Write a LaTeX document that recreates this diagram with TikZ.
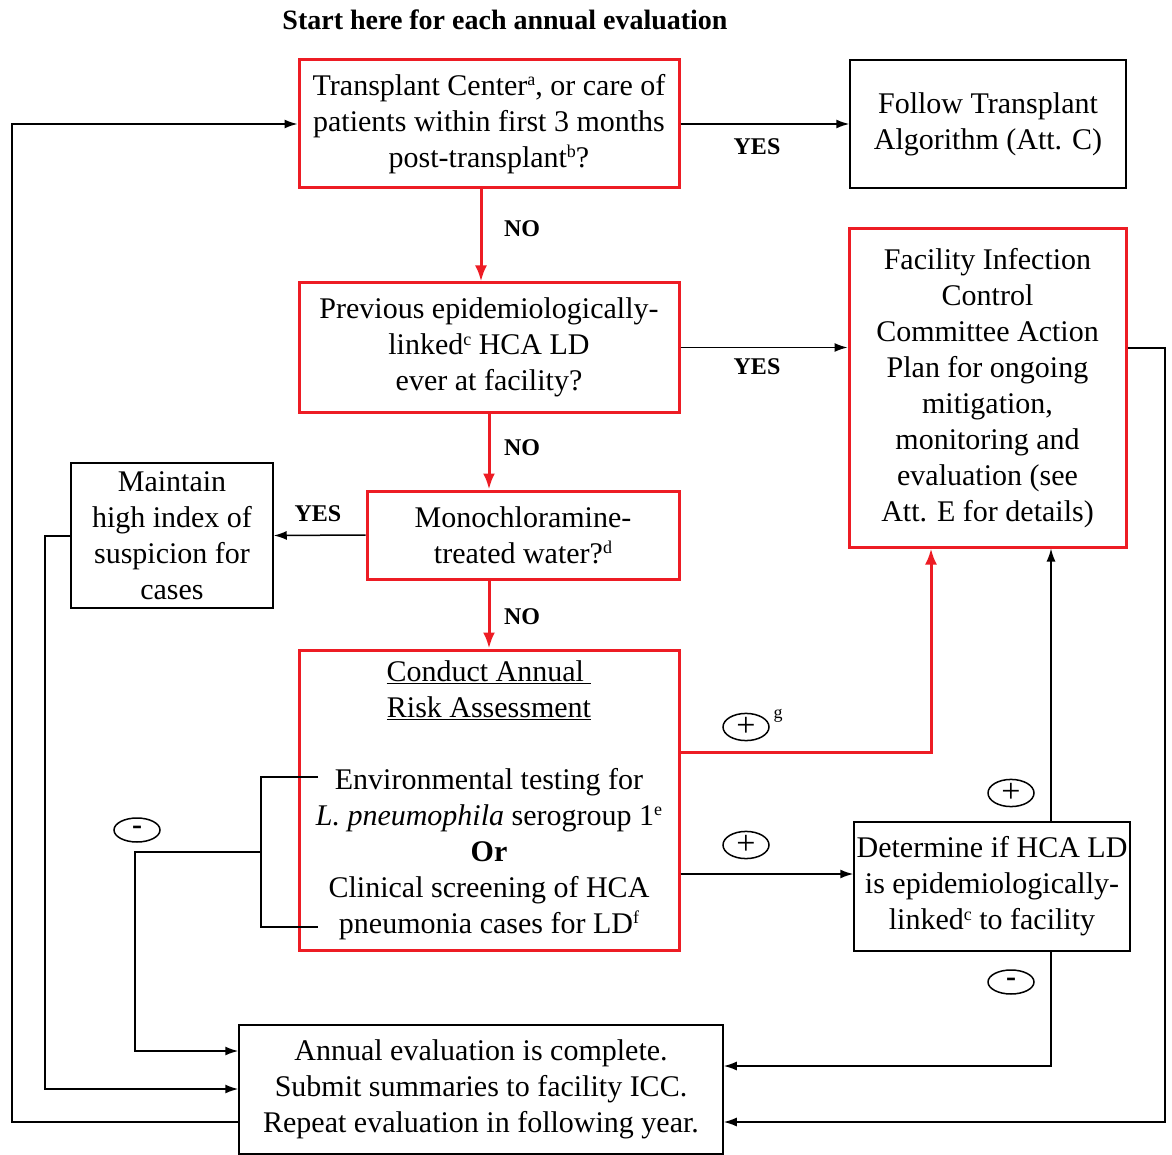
\documentclass[tikz,border=0pt]{standalone}
\usepackage{fontspec}
\setmainfont{Liberation Serif}
\usetikzlibrary{arrows.meta,shapes.geometric}
\definecolor{fred}{RGB}{237,28,36}
\newcommand{\supr}[1]{\raisebox{0.7ex}{\fontsize{18}{18}\selectfont #1}}
\tikzset{
  boxbase/.style={rectangle, align=center, inner sep=0pt, font=\fontsize{30}{36}\selectfont},
  redbox/.style={boxbase, draw=fred, line width=3pt},
  blkbox/.style={boxbase, draw=black, line width=1.5pt},
  conn/.style={line width=1.5pt, draw=black},
  arr/.style={conn, -{Latex[length=13pt,width=9pt]}},
  redarr/.style={line width=3pt, draw=fred, -{Latex[length=16pt,width=12pt]}},
  lbl/.style={font=\bfseries\fontsize{24}{28}\selectfont, inner sep=0pt},
  sym/.style={ellipse, draw=black, line width=1.5pt, minimum width=46pt, minimum height=24pt, inner sep=0pt, font=\fontsize{34}{34}\selectfont}
}
\begin{document}
\begin{tikzpicture}[x=1pt,y=-1pt]
\useasboundingbox (0,0) rectangle (1172,1155);

\node[font=\bfseries\fontsize{28}{32}\selectfont, inner sep=0pt] (title) at (505,20) {Start here for each annual evaluation};

\node[redbox, minimum width=380pt, minimum height=128pt] (A) at (489,124)
  {Transplant Center\supr{a}, or care of\\patients within first 3 months\\post-transplant\supr{b}?};
\node[blkbox, minimum width=276pt, minimum height=128pt] (B) at (988,124)
  {Follow Transplant\\Algorithm (Att. C)};
\node[redbox, minimum width=380pt, minimum height=129pt] (C) at (489,347.5)
  {Previous epidemiologically-\\linked\supr{c} HCA LD\\ever at facility?};
\node[redbox, minimum width=277pt, minimum height=318pt] (D) at (987.5,388)
  {Facility Infection\\Control\\Committee Action\\Plan for ongoing\\mitigation,\\monitoring and\\evaluation (see\\Att. E for details)};
\node[redbox, minimum width=312pt, minimum height=88pt] (E) at (523,535)
  {Monochloramine-\\treated water?\supr{d}};
\node[blkbox, minimum width=202pt, minimum height=145pt] (F) at (172,535.5)
  {Maintain\\high index of\\suspicion for\\cases};
\node[redbox, minimum width=380pt, minimum height=300pt] (G) at (489,800)
  {\underline{Conduct Annual\ }\\\underline{Risk Assessment}\\\mbox{}\\Environmental testing for\\\textit{L. pneumophila} serogroup 1\supr{e}\\\textbf{Or}\\Clinical screening of HCA\\pneumonia cases for LD\supr{f}};
\node[blkbox, minimum width=276pt, minimum height=129pt] (H) at (992,886.5)
  {Determine if HCA LD\\is epidemiologically-\\linked\supr{c} to facility};
\node[blkbox, minimum width=484pt, minimum height=129pt] (I) at (481,1089.5)
  {Annual evaluation is complete.\\Submit summaries to facility ICC.\\Repeat evaluation in following year.};

% coordinates
\coordinate (gD) at (931,752);
\coordinate (gh) at (854,874);
\coordinate (hx) at (1051,0);
\coordinate (ih) at (0,1066);
\coordinate (dr) at (1165,348);
\coordinate (ib) at (0,1122);
\coordinate (lo) at (12,1122);
\coordinate (lt) at (12,124);
\coordinate (fl) at (45,536);
\coordinate (fb) at (45,1089);
\coordinate (b1) at (318,777);
\coordinate (b2) at (261,777);
\coordinate (b3) at (261,927);
\coordinate (b4) at (318,927);
\coordinate (bm) at (261,852);
\coordinate (bl) at (135,852);
\coordinate (bb) at (135,1051);

% connectors
\draw[arr] (A.east) -- (B.west);
\draw[redarr] ([xshift=-8pt]A.south) -- ([xshift=-8pt]C.north);
\draw[arr] (C.east) -- (C.east -| D.west);
\draw[redarr] (C.south) -- (C.south |- E.north);
\draw[arr] (E.west) -- (F.east);
\draw[redarr] (C.south |- E.south) -- (C.south |- G.north);
\draw[redarr] (G.east |- gD) -- (gD) -- (gD |- D.south);
\draw[arr] (G.east |- gh) -- (H.west |- gh);
\draw[arr] (H.north -| hx) -- (D.south -| hx);
\draw[arr] (H.south -| hx) -- (hx |- ih) -- (I.east |- ih);
\draw[arr] (D.east |- dr) -- (dr) -- (dr |- ib) -- (I.east |- ib);
\draw[arr] (I.west |- ib) -- (lo) -- (lt) -- (A.west);
\draw[arr] (F.west |- fl) -- (fl) -- (fb) -- (I.west |- fb);
\draw[conn] (b1) -- (b2) -- (b3) -- (b4);
\draw[arr] (bm) -- (bl) -- (bb) -- (I.west |- bb);

% labels
\node[lbl] (y1) at (757,147) {YES};
\node[lbl] (n1) at (522,229) {NO};
\node[lbl] (y2) at (757,367) {YES};
\node[lbl] (n2) at (522,448) {NO};
\node[lbl] (y3) at (318,514) {YES};
\node[lbl] (n3) at (522,617) {NO};

\node[sym] (p1) at (746,727) {+};
\node[font=\fontsize{18}{18}\selectfont, inner sep=0pt] (sg) at (778,716) {g};
\node[sym] (p2) at (746,845) {+};
\node[sym] (p3) at (1011,793) {+};
\node[sym, font=\bfseries\fontsize{30}{30}\selectfont] (m1) at (1011,982) {-};
\node[sym, font=\bfseries\fontsize{30}{30}\selectfont] (m2) at (137,830) {-};
\end{tikzpicture}
\end{document}
